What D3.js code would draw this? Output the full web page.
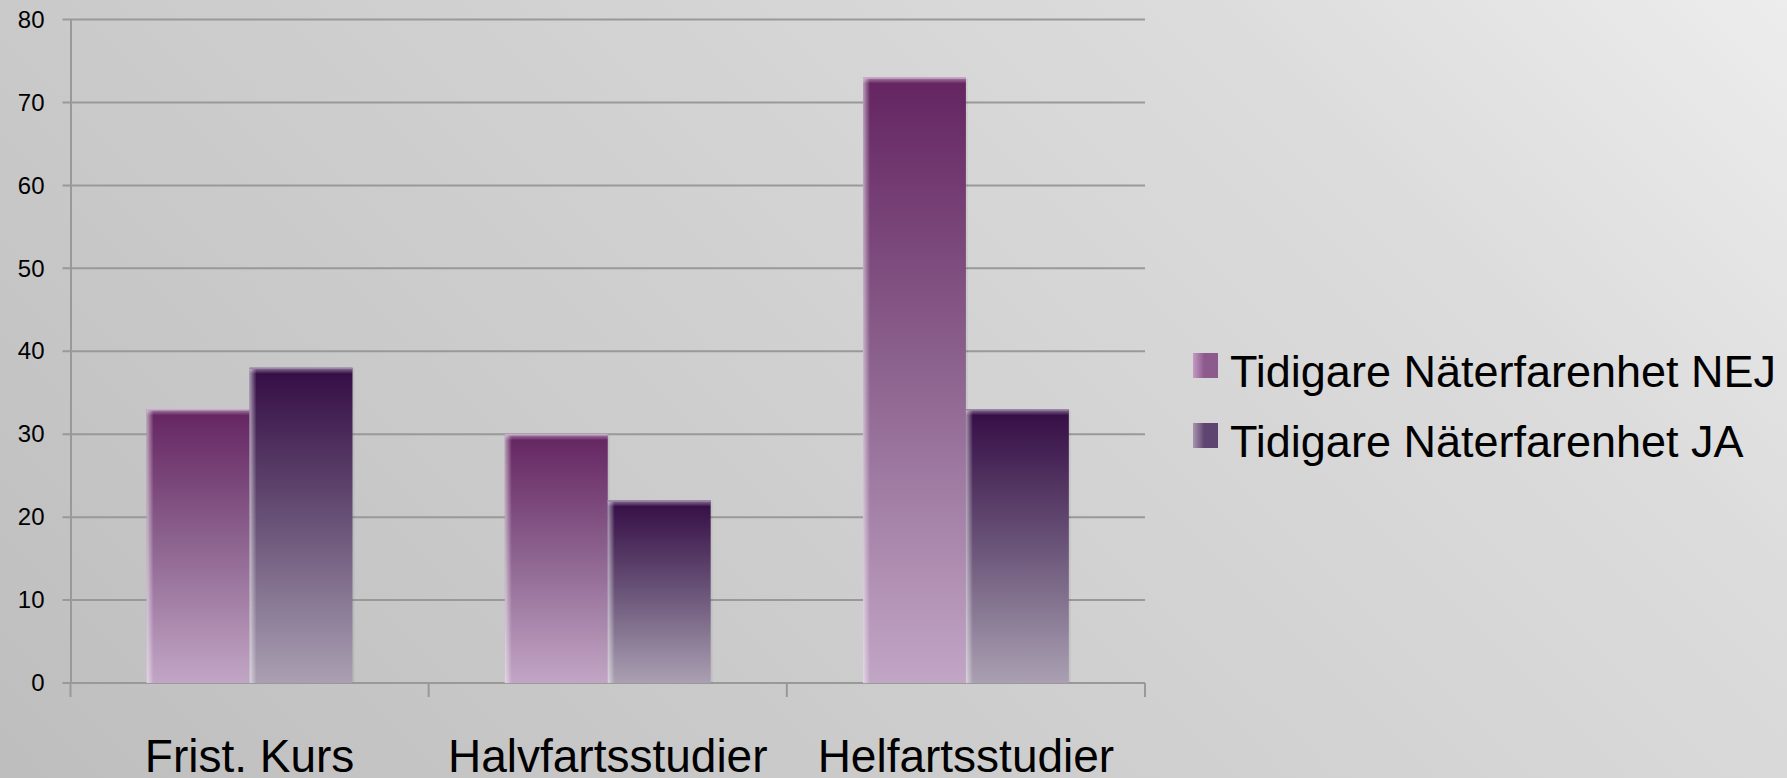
<!DOCTYPE html>
<html>
<head>
<meta charset="utf-8">
<script src="https://cdn.jsdelivr.net/npm/d3@7"></script>
<style>
  html, body { margin: 0; padding: 0; overflow: hidden; }
  svg { display: block; font-family: "Liberation Sans", Arial, sans-serif; }
</style>
</head>
<body>
<svg id="chart" width="1787" height="778"></svg>
<script>
// ---- data ----
const categories = ["Frist. Kurs", "Halvfartsstudier", "Helfartsstudier"];
const seriesNames = ["Tidigare Näterfarenhet NEJ", "Tidigare Näterfarenhet JA"];
const valuesNEJ = [33, 30, 73];
const valuesJA = [38, 22, 33];
const yTicks = [0, 10, 20, 30, 40, 50, 60, 70, 80];

const seriesValues = [valuesNEJ, valuesJA];

const svg = d3.select("#chart");
const W = 1787, H = 778;
const plot = { left: 70.5, right: 1145, top: 19.5, bottom: 683 };

const defs = svg.append("defs");

// background gradient
const bg = defs.append("linearGradient").attr("id", "bg")
  .attr("gradientUnits", "userSpaceOnUse")
  .attr("x1", 200).attr("y1", 1100).attr("x2", 1600).attr("y2", -300);
bg.append("stop").attr("offset", 0).attr("stop-color", "#bcbcbc");
bg.append("stop").attr("offset", 0.45).attr("stop-color", "#cfcfcf");
bg.append("stop").attr("offset", 0.75).attr("stop-color", "#dcdcdc");
bg.append("stop").attr("offset", 1).attr("stop-color", "#f0f0f0");
svg.append("rect").attr("width", W).attr("height", H).attr("fill", "url(#bg)");

// bar gradients
const gradSpecs = [
  { id: "g0", top: "#642461", mid: "#8e6590", bot: "#c2a6c6" },
  { id: "g1", top: "#340c45", mid: "#6a5478", bot: "#aaa0b2" }
];
gradSpecs.forEach(s => {
  const g = defs.append("linearGradient").attr("id", s.id)
    .attr("x1", 0).attr("y1", 0).attr("x2", 0).attr("y2", 1);
  g.append("stop").attr("offset", 0).attr("stop-color", s.top);
  g.append("stop").attr("offset", 0.5).attr("stop-color", s.mid);
  g.append("stop").attr("offset", 1).attr("stop-color", s.bot);
});
// left highlight
const hl = defs.append("linearGradient").attr("id", "hl")
  .attr("x1", 0).attr("y1", 0).attr("x2", 1).attr("y2", 0);
hl.append("stop").attr("offset", 0).attr("stop-color", "#ffffff").attr("stop-opacity", 0.55);
hl.append("stop").attr("offset", 1).attr("stop-color", "#ffffff").attr("stop-opacity", 0);
// top soft band
const tb = defs.append("linearGradient").attr("id", "tb")
  .attr("x1", 0).attr("y1", 0).attr("x2", 0).attr("y2", 1);
tb.append("stop").attr("offset", 0).attr("stop-color", "#ffffff").attr("stop-opacity", 0.45);
tb.append("stop").attr("offset", 1).attr("stop-color", "#ffffff").attr("stop-opacity", 0);

// legend square gradients (soft horizontal)
const lg = [["lg0", "#c49ac4", "#8c5a8c"], ["lg1", "#a995b0", "#5e4470"]];
lg.forEach(([id, a, b]) => {
  const g = defs.append("linearGradient").attr("id", id)
    .attr("x1", 0).attr("y1", 0).attr("x2", 1).attr("y2", 0);
  g.append("stop").attr("offset", 0).attr("stop-color", a);
  g.append("stop").attr("offset", 0.45).attr("stop-color", b);
  g.append("stop").attr("offset", 1).attr("stop-color", b);
});

// scales
const y = d3.scaleLinear().domain([0, 80]).range([plot.bottom, plot.top]);
const x0 = d3.scaleBand().domain(categories).range([plot.left, plot.right]).paddingInner(0).paddingOuter(0);
const x1 = d3.scaleBand().domain(d3.range(seriesNames.length)).range([0, x0.bandwidth()]).paddingInner(0).paddingOuter(0.74);

// gridlines
svg.append("g").selectAll("line").data(yTicks).join("line")
  .attr("x1", plot.left - 8).attr("x2", plot.right)
  .attr("y1", d => y(d)).attr("y2", d => y(d))
  .attr("stroke", "#999999").attr("stroke-width", 2);

// y axis
const yAxis = d3.axisLeft(y).tickValues(yTicks).tickSize(0).tickPadding(26);
const yg = svg.append("g").attr("transform", `translate(${plot.left},0)`).call(yAxis);
yg.select(".domain").attr("stroke", "#999999").attr("stroke-width", 2);
yg.selectAll("text").attr("font-size", 24).attr("fill", "#000").attr("font-family", "'Liberation Sans', Arial, sans-serif");

// x axis ticks at category boundaries
const boundaries = categories.map(c => x0(c)).concat([plot.right]);
svg.append("g").selectAll("line").data(boundaries).join("line")
  .attr("x1", d => d).attr("x2", d => d)
  .attr("y1", plot.bottom).attr("y2", plot.bottom + 14)
  .attr("stroke", "#999999").attr("stroke-width", 2);

// bars
const groups = svg.append("g").selectAll("g").data(categories).join("g")
  .attr("transform", c => `translate(${x0(c)},0)`);

groups.each(function(c, ci) {
  const g = d3.select(this);
  seriesValues.forEach((vals, si) => {
    const v = vals[ci];
    const bx = x1(si), bw = x1.bandwidth();
    const by = y(v), bh = y(0) - y(v);
    g.append("rect").attr("x", bx + 2).attr("y", by + 1).attr("width", bw).attr("height", bh - 1)
      .attr("fill", "#000").attr("opacity", 0.05);
    g.append("rect").attr("x", bx).attr("y", by).attr("width", bw).attr("height", bh)
      .attr("fill", `url(#g${si})`);
    g.append("rect").attr("x", bx).attr("y", by).attr("width", 7).attr("height", bh)
      .attr("fill", "url(#hl)");
    g.append("rect").attr("x", bx).attr("y", by).attr("width", bw).attr("height", 6)
      .attr("fill", "url(#tb)");
    g.append("line").attr("x1", bx).attr("x2", bx + bw).attr("y1", by + 0.5).attr("y2", by + 0.5)
      .attr("stroke", si === 0 ? "#c8a8cc" : "#9a86a6").attr("stroke-width", 1.5);
  });
});

// category labels
svg.append("g").selectAll("text").data(categories).join("text")
  .attr("x", c => x0(c) + x0.bandwidth() / 2)
  .attr("y", 772)
  .attr("text-anchor", "middle")
  .attr("font-size", 46).attr("fill", "#000")
  .text(c => c);

// legend
const legend = svg.append("g").selectAll("g").data(seriesNames).join("g")
  .attr("transform", (d, i) => `translate(1193,${353 + i * 70})`);
legend.append("rect").attr("width", 25).attr("height", 25)
  .attr("fill", (d, i) => `url(#lg${i})`);
legend.append("text").attr("x", 37).attr("y", 34)
  .attr("font-size", 45).attr("fill", "#000")
  .text(d => d);
</script>
</body>
</html>
